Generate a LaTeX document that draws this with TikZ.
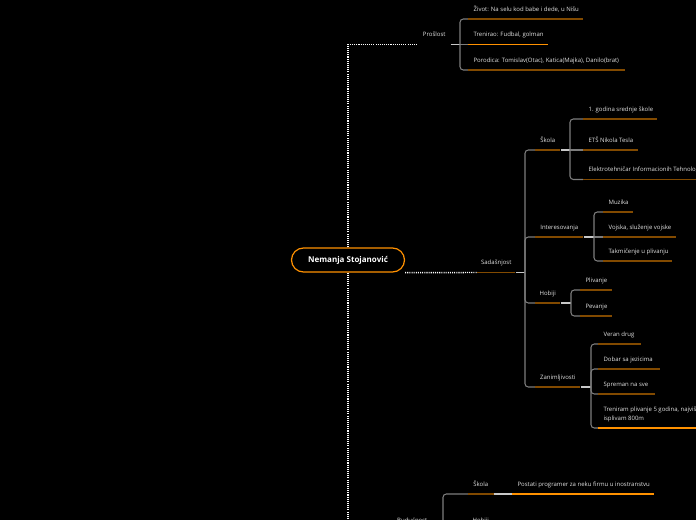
\documentclass[tikz,border=0pt]{standalone}
\usepackage{fontspec}
\setmainfont{Open Sans}

\definecolor{dorange}{RGB}{130,74,0}
\definecolor{borange}{RGB}{255,145,0}
\definecolor{bgray}{RGB}{125,125,125}
\definecolor{lgray}{RGB}{200,200,200}
\definecolor{txtgray}{RGB}{225,225,225}

\tikzset{
  topic/.style={text=txtgray, font=\fontsize{4.5}{6.75}\selectfont, anchor=south west,
    inner xsep=4pt, inner ysep=4.6pt, text height=3.4pt, text depth=1pt},
  branchtag/.style={topic, inner xsep=0pt, minimum width=#1},
  under/.style={draw=dorange, line width=1.1pt},
  hot/.style={draw=borange, line width=1.1pt},
  bracket/.style={draw=bgray, line width=0.8pt, rounded corners=2.5pt},
  link/.style={draw=lgray, line width=1.1pt},
  dots/.style={draw=white, line width=1.1pt, dash pattern=on 0.8pt off 0.8pt},
  root/.style={draw=borange, line width=0.9pt, rounded corners=9pt, minimum width=84.75pt,
    minimum height=18pt, text=white, font=\bfseries\fontsize{6}{7}\selectfont}
}

\begin{document}
\begin{tikzpicture}[x=0.75pt,y=-0.75pt]

\useasboundingbox (0,0) rectangle (696,520);
\fill[black] (0,0) rectangle (696,520);
\clip (0,0) rectangle (696,520);

% Nemanja
\node[root] (root) at (348,260) {Nemanja Stojanović};

% Prošlost
\node[branchtag=24pt] (pro) at (418,44.5) {Prošlost};
\draw[dots] (root.north) -- (348,44.5) -- (pro.south west);
\coordinate (prob) at (460,44.5);
\draw[link] (pro.south east) -- (prob);

\node[topic] (pro1) at (468,19) {Život: Na selu kod babe i dede, u Nišu};
\node[topic] (pro2) at (468,44.5) {Trenirao: Fudbal, golman};
\node[topic] (pro3) at (468,70) {Porodica: Tomislav(Otac), Katica(Majka), Danilo(brat)};

\draw[bracket] (pro1.south west) -| (prob) |- (pro3.south west);
\draw[bracket] (prob) -- (pro2.south west);
\foreach \n/\l in {pro1/115,pro3/157}
{
\draw[under] (\n.south west) -- ++(\l,0);
}
\draw[hot] (pro2.south west) -- ++(80,0);

% Sadašnjost
\node[branchtag=28.5pt] (sad) at (477,272.5) {Sadašnjost};
\draw[dots] (root.south east) -- (sad.south west);
\draw[dots] (root.south) -- (348,540);
\coordinate (sadb) at (525,272.5);
\draw[link] (sad.south east) -- (sadb);

\node[branchtag=18.75pt] (sko) at (535,150) {Škola};
\node[branchtag=36pt] (int) at (535,237) {Interesovanja};
\node[branchtag=18.75pt] (hob) at (535,303) {Hobiji};
\node[branchtag=33.75pt] (zan) at (535,387) {Zanimljivosti};

\draw[bracket] (sko.south west) -| (sadb) |- (zan.south west);
\foreach \n in {int,hob}
{
\draw[bracket] (sadb) |- (\n.south west);
}

% Škola
\coordinate (skob) at (570,150);
\coordinate (intb) at (594,237);
\coordinate (hobb) at (571,303);
\coordinate (zanb) at (591,387);
\foreach \n in {sko,int,hob,zan}
{
\draw[link] (\n.south east) -- (\n b);
}

\node[topic] (sko1) at (583,119) {1. godina srednje škole};
\node[topic] (sko2) at (583,150) {ETŠ Nikola Tesla};
\node[topic] (sko3) at (583,179.5) {Elektrotehničar Informacionih Tehnologija};
\draw[bracket] (sko1.south west) -| (skob) |- (sko3.south west);
\draw[bracket] (skob) -- (sko2.south west);

% Interesovanja
\node[topic] (int1) at (603,212) {Muzika};
\node[topic] (int2) at (603,237) {Vojska, služenje vojske};
\node[topic] (int3) at (603,261) {Takmičenje u plivanju};
\draw[bracket] (int1.south west) -| (intb) |- (int3.south west);
\draw[bracket] (intb) -- (int2.south west);

% Hobiji
\node[topic] (hob1) at (580,290) {Plivanje};
\node[topic] (hob2) at (580,316) {Pevanje};
\draw[bracket] (hob1.south west) -| (hobb) |- (hob2.south west);

% Zanimljivosti
\node[topic] (zan1) at (598,344) {Veran drug};
\node[topic] (zan2) at (598,369) {Dobar sa jezicima};
\node[topic] (zan3) at (598,394) {Spreman na sve};
\node[topic, align=left] (zan4) at (598,428) {Treniram plivanje 5 godina, najviše\\isplivam 800m};
\draw[bracket] (zan1.south west) -| (zanb) |- (zan4.south west);
\foreach \n in {zan2,zan3}
{
\draw[bracket] (zanb) |- (\n.south west);
}

\foreach \n/\l in {
sad/38,sko/25,int/48,hob/25,zan/45,
sko1/74,sko2/55,sko3/140,
int1/30,int2/73,int3/69,
hob1/32,hob2/32,
zan1/43,zan2/62,zan3/57
}
{
\draw[under] (\n.south west) -- ++(\l,0);
}
\draw[hot] (zan4.south west) -- ++(120,0);

% Budućnost
\node[branchtag=27pt] (bud) at (394,530.5) {Budućnost};
\draw[dots] (root.south |- bud.south west) -- (bud.south west);
\coordinate (budb) at (443,530.5);
\draw[link] (bud.south east) -- (budb);
\draw[under] (bud.south west) -- (bud.south east);

\node[branchtag=18.75pt] (bsk) at (468,494) {Škola};
\node[branchtag=18.75pt] (bho) at (468,530.5) {Hobiji};
\draw[bracket] (bsk.south west) -| (budb);
\draw[bracket] (budb) -- (bho.south west);
\draw[under] (bsk.south west) -- (bsk.south east);
\draw[under] (bho.south west) -- (bho.south east);

\node[topic] (bsk1) at (512,494) {Postati programer za neku firmu u inostranstvu};
\draw[link] (bsk.south east) -- (bsk1.south west);
\draw[hot] (bsk1.south west) -- ++(142,0);

\end{tikzpicture}
\end{document}
